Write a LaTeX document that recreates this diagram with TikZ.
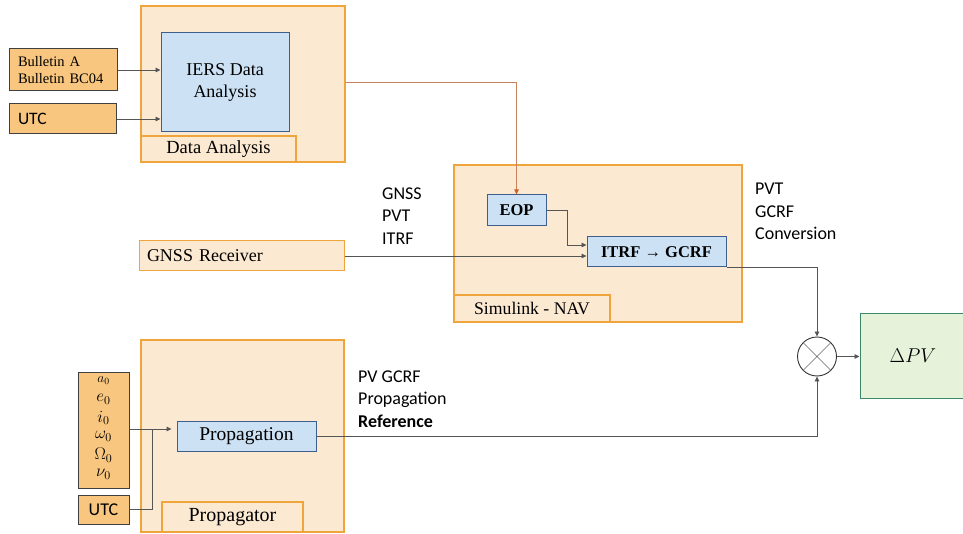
\documentclass[tikz,border=0pt]{standalone}
\usepackage{fix-cm}
\usepackage{fontspec}
\setmainfont{Liberation Serif}
\newfontfamily\sansf{Carlito}
\usetikzlibrary{arrows.meta,shapes.geometric,calc}
\definecolor{contfill}{HTML}{FCE9D2}
\definecolor{contdraw}{HTML}{F0A43C}
\definecolor{inputfill}{HTML}{F8C67E}
\definecolor{inputdraw}{HTML}{404040}
\definecolor{bluefill}{HTML}{CCE1F4}
\definecolor{bluedraw}{HTML}{3E5E8E}
\definecolor{greenfill}{HTML}{E6F2DA}
\definecolor{greendraw}{HTML}{3A8A6A}
\definecolor{linecol}{HTML}{555555}
\definecolor{redline}{HTML}{C9825E}
\definecolor{redtip}{HTML}{D0602A}
\begin{document}
\begin{tikzpicture}[x=1pt,y=-1pt,
  sz/.style 2 args={minimum width=#1pt,minimum height=#2pt},
  container/.style={draw=contdraw,fill=contfill,line width=1.1pt,inner sep=0pt},
  inputbox/.style={draw=inputdraw,fill=inputfill,line width=1pt,inner sep=0pt},
  bluebox/.style={draw=bluedraw,fill=bluefill,line width=1pt,inner sep=0pt},
  greenbox/.style={draw=greendraw,fill=greenfill,line width=1pt,inner sep=0pt},
  conn/.style={draw=linecol,line width=0.8pt},
  arr/.style={conn,-{Triangle[length=5pt,width=4.5pt]}},
  elemlab/.style={inner sep=0pt,font=\fontsize{17}{19}\selectfont},
  sansA/.style={font=\sansf\fontsize{18}{22.7}\selectfont},
]
\useasboundingbox (0,0) rectangle (963,534);

% containers
\node[container,sz={204}{156}] (da) at (243,84) {};
\node[container,sz={155}{26},font=\fontsize{18.5}{22}\selectfont] (dalab) at (218.5,149) {Data Analysis};
\node[container,sz={288}{157}] (nav) at (598,243.5) {};
\node[container,sz={156}{27},font=\fontsize{17.7}{22}\selectfont] (navlab) at (532,308.5) {Simulink - NAV};
\node[container,sz={203}{192}] (prop) at (242.5,436) {};
\node[container,sz={141}{30},font=\fontsize{20}{22}\selectfont] (proplab) at (232.5,517) {Propagator};

% inputs
\node[inputbox,sz={108}{42},text width=90pt,inner xsep=9pt,align=left,font=\fontsize{14.5}{16.5}\selectfont] (bull) at (63,70) {Bulletin A\\Bulletin BC04};
\node[inputbox,sz={107}{30},text width=89pt,inner xsep=9pt,align=left,font=\sansf\fontsize{17.5}{20}\selectfont] (utcA) at (62.5,119) {UTC};
\node[container,sz={205}{30},text width=189pt,inner xsep=8pt,align=left,line width=1pt,font=\fontsize{18}{22}\selectfont] (gnss) at (241.5,256) {GNSS Receiver};
\node[inputbox,sz={51}{116}] (elem) at (103.5,430) {};
\node[inputbox,sz={51}{29},font=\sansf\fontsize{18}{20}\selectfont] (utcB) at (103.5,509.5) {UTC};

% element labels
\node[elemlab,font=\fontsize{13.5}{16}\selectfont] (el1) at (103.5,381) {$a_0$};
\node[elemlab] (el2) at (103.5,399.5) {$e_0$};
\node[elemlab] (el3) at (103.5,418) {$i_0$};
\node[elemlab] (el4) at (103.5,436.5) {$\omega_0$};
\node[elemlab] (el5) at (103.5,455) {$\Omega_0$};
\node[elemlab] (el6) at (103.5,474.5) {$\nu_0$};

% blue blocks
\node[bluebox,sz={128}{99},align=center,font=\fontsize{18}{22}\selectfont] (iers) at (225,82.5) {IERS Data\\Analysis};
\node[bluebox,sz={59}{31},font=\bfseries\fontsize{16.5}{20}\selectfont] (eop) at (516.5,210.5) {EOP};
\node[bluebox,sz={139}{30},font=\bfseries\fontsize{16.5}{20}\selectfont] (itrf) at (656.5,252) {ITRF → GCRF};
\node[bluebox,sz={139}{30},font=\fontsize{19.5}{22}\selectfont] (propbox) at (246.5,436) {Propagation};

% summing junction and result
\node[circle,draw=black!80,fill=white,line width=0.9pt,minimum size=39pt,inner sep=0pt] (mult) at (817,356.5) {};
\draw[black!60,line width=0.6pt] (mult.north east) -- (mult.south west) (mult.north west) -- (mult.south east);
\node[greenbox,sz={106}{84},font=\fontsize{20}{22}\selectfont] (dpv) at (913,356) {$\Delta PV$};

% free labels
\node[sansA,inner sep=0pt,anchor=west,align=left] (gnsstxt) at (382,216) {GNSS\\PVT\\ITRF};
\node[sansA,inner sep=0pt,anchor=west,align=left] (convtxt) at (755,211.5) {PVT\\GCRF\\Conversion};
\node[sansA,inner sep=0pt,anchor=west,align=left] (reftxt) at (358,399) {PV GCRF\\Propagation\\\textbf{Reference}};

% connectors
\draw[arr] (bull.east) -- (bull.east -| iers.west);
\draw[arr] (utcA.east) -- (utcA.east -| iers.west);
\draw[draw=redline,line width=0.8pt,-{Triangle[length=5pt,width=4.5pt,color=redtip]}] ([yshift=2pt]da.east) -| (eop.north);
\draw[arr] (eop.east) -- ++(21,0) |- ([yshift=7pt]itrf.west);
\draw[arr] (gnss.east) -- (gnss.east -| itrf.west);
\draw[arr] (itrf.south east) -| (mult.north);
\draw[arr] (propbox.east) -| (mult.south);
\draw[arr] (mult.east) -- (mult.east -| dpv.west);
\draw[arr,shorten >=5pt] ([yshift=1pt]elem.east) -- ([yshift=1pt]elem.east -| propbox.west);
\draw[conn] (utcB.east) -| ([xshift=23pt,yshift=1pt]elem.east);
\end{tikzpicture}
\end{document}
